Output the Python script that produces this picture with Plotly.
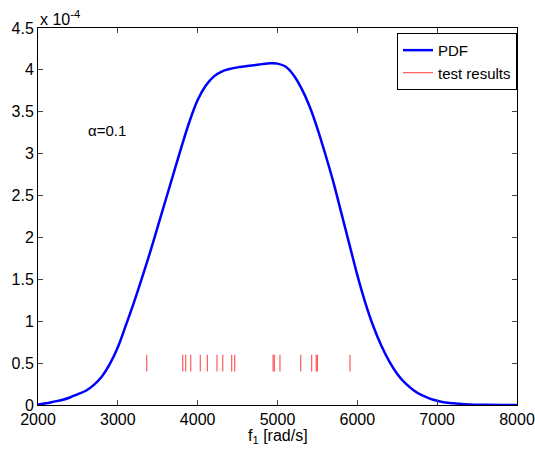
import plotly.graph_objects as go

# PDF curve (frequency in rad/s, density)
f1 = [2000, 2100, 2200, 2300, 2400, 2500, 2600, 2700, 2800, 2900, 3000, 3100, 3200,
      3300, 3400, 3500, 3600, 3700, 3800, 3900, 4000, 4100, 4200, 4300, 4400, 4500,
      4700, 4900, 4950, 5000, 5100, 5200, 5300, 5400, 5500, 5600, 5700, 5800, 5900,
      6000, 6100, 6200, 6300, 6400, 6500, 6600, 6700, 6800, 6900, 7000, 7100, 7200,
      7400, 7600, 8000]
pdf_e4 = [0.005, 0.02, 0.04, 0.06, 0.09, 0.13, 0.17, 0.24, 0.34, 0.49, 0.69, 0.95, 1.22,
          1.51, 1.81, 2.13, 2.45, 2.77, 3.09, 3.39, 3.64, 3.81, 3.92, 3.98, 4.01, 4.03,
          4.055, 4.078, 4.08, 4.075, 4.04, 3.94, 3.78, 3.57, 3.30, 2.99, 2.66, 2.29, 1.92,
          1.55, 1.22, 0.94, 0.71, 0.52, 0.37, 0.26, 0.18, 0.12, 0.08, 0.05, 0.03, 0.02,
          0.007, 0.002, 0.0]
pdf = [v * 1e-4 for v in pdf_e4]

# Test results (frequencies)
tests = [3362, 3813, 3850, 3913, 4033, 4121, 4242, 4314, 4426, 4464, 4945, 4960,
         5031, 5291, 5428, 5485, 5500, 5908]
tick_lo, tick_hi = 0.4e-4, 0.6e-4

xticks = [2000, 3000, 4000, 5000, 6000, 7000, 8000]
yticks = [0, 0.5e-4, 1e-4, 1.5e-4, 2e-4, 2.5e-4, 3e-4, 3.5e-4, 4e-4, 4.5e-4]
yticklabels = ["0", "0.5", "1", "1.5", "2", "2.5", "3", "3.5", "4", "4.5"]

tx, ty = [], []
for t in tests:
    tx += [t, t, None]
    ty += [tick_lo, tick_hi, None]

font = "Liberation Sans, Arial, sans-serif"
fig = go.Figure()
fig.add_trace(go.Scatter(x=f1, y=pdf, mode="lines", name="PDF",
                         line=dict(color="#0000ff", width=2.5, shape="spline", smoothing=1.0)))
fig.add_trace(go.Scatter(x=tx, y=ty, mode="lines", name="test results",
                         line=dict(color="rgba(255,0,0,0.65)", width=1.2)))

fig.update_layout(
    width=535, height=452,
    margin=dict(l=38, r=18, t=28, b=47),
    paper_bgcolor="white", plot_bgcolor="white",
    font=dict(family=font, size=16, color="black"),
    showlegend=True,
    legend=dict(x=1, xanchor="right", y=0.987, yanchor="top",
                bordercolor="black", borderwidth=1, bgcolor="white",
                font=dict(size=15), tracegroupgap=0),
    xaxis=dict(range=[2000, 8000], tickvals=xticks, ticks="inside", ticklen=5,
               showline=True, linecolor="black", linewidth=1, mirror="ticks",
               showgrid=False, zeroline=False, automargin=False),
    yaxis=dict(range=[0, 4.5e-4], tickvals=yticks, ticktext=yticklabels, ticks="inside",
               ticklen=5, showline=True, linecolor="black", linewidth=1, mirror="ticks",
               showgrid=False, zeroline=False, automargin=False),
    annotations=[
        dict(x=0, y=1, xref="paper", yref="paper", xanchor="left", yanchor="bottom",
             text="x 10<sup>-4</sup>", showarrow=False, font=dict(size=16), yshift=-2),
        dict(x=0.5, y=0, xref="paper", yref="paper", xanchor="center", yanchor="top",
             text="f<sub>1</sub> [rad/s]", showarrow=False, font=dict(size=16), yshift=-20),
        dict(x=2600, y=3.28e-4, xref="x", yref="y", xanchor="left", yanchor="middle",
             text="α=0.1", showarrow=False, font=dict(size=15)),
    ],
)

# remove the default page margin so the figure sits at the window's top-left corner
fig.write_html("out.html", config={"displayModeBar": False},
               post_script="document.body.style.margin='0';document.body.style.overflow='hidden';")
